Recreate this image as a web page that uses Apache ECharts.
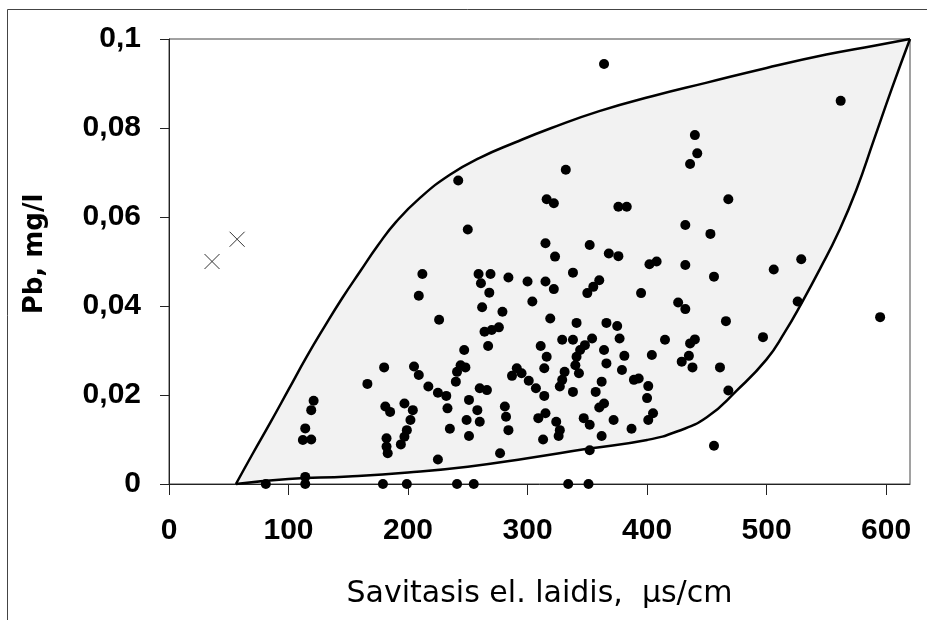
<!DOCTYPE html>
<html><head><meta charset="utf-8">
<script src="https://cdn.jsdelivr.net/npm/echarts@6/dist/echarts.min.js"></script>
<style>html,body{margin:0;padding:0;background:#fff}#c{width:927px;height:620px}</style>
</head><body><div id="c"></div>
<script>
const xTicks = [0, 100, 200, 300, 400, 500, 600];
const yTickLabels = ['0', '0,02', '0,04', '0,06', '0,08', '0,1'];
const xTitle = 'Savitasis el. laidis,  \u03bcs/cm';
const yTitle = 'Pb, mg/l';

const conductivity = [
  323,368,376,402,408,212,259,269,261,268,284,300,315,322,338,360,355,350,395,209,
  262,279,304,226,319,341,366,375,264,270,276,267,247,329,338,354,348,344,341,340,
  343,377,364,366,311,316,314,381,379,404,331,329,327,205,209,244,248,241,240,291,
  287,295,301,307,314,362,357,389,393,401,400,338,217,225,232,233,260,266,251,258,
  260,249,235,251,281,282,284,309,315,324,327,326,313,347,352,360,364,372,387,401,
  405,362,352,277,225,
  81,114,179,199,241,255,334,351,
  180,166,121,119,114,112,119,114,181,185,197,204,202,199,197,194,182,182,183,
  364,242,332,316,322,376,383,250,315,352,
  562,440,442,436,468,432,453,529,
  432,456,506,426,432,526,595,466,415,436,440,497,435,429,438,461,468,456
];
const lead = [
  .0511,.0518,.0512,.0494,.0500,.0472,.0472,.0472,.0451,.0430,.0464,.0455,.0455,.0438,.0475,.0458,.0443,.0429,.0429,.0423,
  .0397,.0387,.0410,.0369,.0372,.0362,.0362,.0355,.0342,.0346,.0352,.0310,.0301,.0324,.0324,.0327,.0312,.0301,.0286,.0267,
  .0249,.0327,.0301,.0271,.0310,.0286,.0260,.0288,.0256,.0290,.0252,.0234,.0219,.0264,.0245,.0267,.0262,.0252,.0230,.0260,
  .0243,.0249,.0232,.0215,.0198,.0230,.0207,.0234,.0237,.0220,.0193,.0207,.0219,.0205,.0198,.0170,.0215,.0211,.0189,.0166,
  .0140,.0144,.0124,.0108,.0174,.0151,.0121,.0148,.0159,.0140,.0121,.0108,.0100,.0148,.0133,.0172,.0181,.0144,.0124,.0144,
  .0159,.0108,.0076,.0069,.0055,
  0,0,0,0,0,0,0,0,
  .0262,.0225,.0187,.0166,.0125,.0099,.0100,.0016,.0174,.0162,.0181,.0166,.0144,.0121,.0106,.0089,.0103,.0084,.0069,
  .0944,.0682,.0706,.0640,.0631,.0623,.0623,.0572,.0541,.0537,
  .0861,.0784,.0743,.0719,.0640,.0582,.0562,.0505,
  .0492,.0466,.0482,.0408,.0393,.0410,.0375,.0366,.0324,.0316,.0325,.0330,.0288,.0275,.0262,.0262,.0210,.0086
];
const outlierConductivity = [36, 57];
const outlierLead = [0.050, 0.055];

// envelope drawn around the data cloud
const upperX = [56, 70, 85, 100, 115, 130, 145, 160, 175, 190, 210, 235, 260, 290, 320, 360, 405, 450, 500, 550, 590, 620];
const upperY = [0, .0068, .0139, .0212, .0285, .0353, .0418, .0478, .0537, .0589, .0643, .0695, .0733, .0768, .0800, .0838, .0872, .0902, .0935, .0965, .0985, .1];
const lowerX = [56, 100, 150, 200, 250, 300, 350, 400, 425, 450, 475, 500, 515, 530, 545, 560, 575, 590, 605, 620];
const lowerY = [0, .0011, .0017, .0026, .0039, .0058, .0079, .0099, .0118, .0150, .0210, .0280, .0340, .0410, .0485, .0565, .0660, .0775, .0890, .1];

const points = conductivity.map((x, i) => [x, lead[i]]);
const outliers = outlierConductivity.map((x, i) => [x, outlierLead[i]]);

const chart = echarts.init(document.getElementById('c'), null, {renderer: 'canvas'});
const tickFont = {fontFamily: 'Liberation Sans, Arial, sans-serif', fontWeight: 'bold', fontSize: 30, color: '#000'};

chart.setOption({
  animation: false,
  backgroundColor: '#fff',
  graphic: [{
    type: 'rect', silent: true,
    shape: {x: 7.5, y: 9.5, width: 1000, height: 1000},
    style: {fill: null, stroke: '#444', lineWidth: 1}
  }],
  grid: {left: 169, top: 39, right: 17, bottom: 136, show: true, borderColor: '#444', borderWidth: 1, backgroundColor: 'transparent'},
  xAxis: {
    type: 'value', min: 0, max: 620, interval: 100,
    axisLine: {onZero: false, lineStyle: {color: '#222', width: 1}},
    axisTick: {customValues: xTicks, length: 11, lineStyle: {color: '#222', width: 1}},
    axisLabel: Object.assign({customValues: xTicks, margin: 32}, tickFont),
    splitLine: {show: false},
    name: xTitle, nameLocation: 'middle', nameGap: 95,
    nameTextStyle: {fontFamily: 'DejaVu Sans, sans-serif', fontSize: 30, color: '#000'}
  },
  yAxis: {
    type: 'value', min: 0, max: 0.1, interval: 0.02,
    axisLine: {onZero: false, lineStyle: {color: '#222', width: 1}},
    axisTick: {length: 9, lineStyle: {color: '#222', width: 1}},
    axisLabel: Object.assign({margin: 28, formatter: v => yTickLabels[Math.round(v / 0.02)]}, tickFont),
    splitLine: {show: false},
    name: yTitle, nameLocation: 'middle', nameGap: 121,
    nameTextStyle: {fontFamily: 'DejaVu Sans, sans-serif', fontWeight: 'bold', fontSize: 26, color: '#000', padding: [0, 0, 0, 15]}
  },
  series: [
    {
      type: 'custom', z: 1, silent: true,
      data: [0],
      renderItem: function (params, api) {
        const up = upperX.map((x, i) => api.coord([x, upperY[i]]));
        const lo = lowerX.map((x, i) => api.coord([x, lowerY[i]]));
        const poly = up.concat(lo.slice().reverse());
        return {
          type: 'group',
          children: [
            {type: 'polygon', shape: {points: poly}, style: {fill: '#f2f2f2', stroke: null}},
            {type: 'polyline', shape: {points: up, smooth: 0.5}, style: {stroke: '#000', lineWidth: 2.5, fill: null}},
            {type: 'polyline', shape: {points: lo, smooth: 0.5}, style: {stroke: '#000', lineWidth: 2.5, fill: null}}
          ]
        };
      }
    },
    {
      type: 'scatter', z: 3, data: points,
      symbol: 'circle', symbolSize: 10,
      itemStyle: {color: '#000', opacity: 1}
    },
    {
      type: 'scatter', z: 3, data: outliers,
      symbol: 'path://M0,0L10,10M10,0L0,10', symbolSize: 15,
      itemStyle: {color: 'rgba(0,0,0,0)', borderColor: '#333', borderWidth: 1, opacity: 1}
    }
  ]
});
</script></body></html>
